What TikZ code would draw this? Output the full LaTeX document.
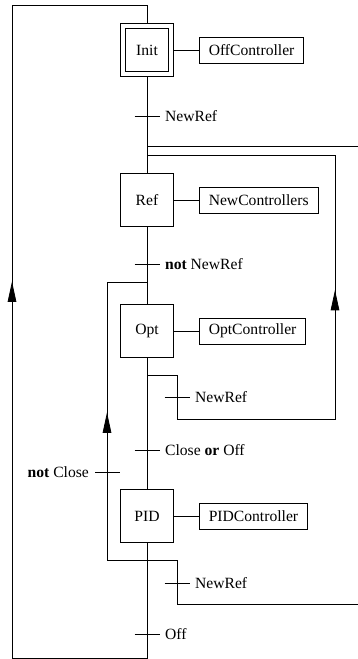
\documentclass[tikz,border=0pt]{standalone}
\usepackage{fontspec}
\setmainfont{Liberation Serif}
\usetikzlibrary{arrows.meta,decorations.markings}
\tikzset{
	stepbox/.style={draw, minimum width=33.9pt, minimum height=33.9pt, inner sep=0pt},
	initbox/.style={draw, minimum width=27.5pt, minimum height=27.5pt, inner sep=0pt},
	actionbox/.style={draw, anchor=west, minimum height=16.6pt, inner xsep=6pt, inner ysep=0pt},
	uparrow/.style={postaction={decorate}, decoration={markings,
		mark=at position #1 with {\arrow{Triangle[length=13pt, width=5.5pt]}}}},
}
\begin{document}
\begin{tikzpicture}[x=0.64pt, y=-0.64pt, line width=0.5pt]
	\useasboundingbox (0,0) rectangle (358,659);
	
	\node[initbox] (init) at (147,50) {Init};
	\node[stepbox] (initframe) at (147,50) {};
	\node[stepbox] (ref) at (147,200) {Ref};
	\node[stepbox] (opt) at (147,331) {Opt};
	\node[stepbox] (pid) at (147,516) {PID};
	
	\node[actionbox] (offctl) at (199,50) {OffController};
	\node[actionbox] (newctl) at (199,200) {NewControllers};
	\node[actionbox] (optctl) at (199,331) {OptController};
	\node[actionbox] (pidctl) at (199,516) {PIDController};
	\draw (initframe) -- (offctl);
	\draw (ref) -- (newctl);
	\draw (opt) -- (optctl);
	\draw (pid) -- (pidctl);
	
	\coordinate (top) at (147,5);
	\coordinate (bottom) at (147,658);
	\coordinate (jref) at (147,146);
	\coordinate (jrefb) at (147,155);
	\coordinate (jopt) at (147,282);
	\coordinate (joptb) at (147,375);
	\coordinate (jpid) at (147,560);
	\coordinate (outhi) at (358,146);
	\coordinate (outlo) at (358,604);
	
	\draw (initframe) -- (ref);
	\draw (ref) -- (opt);
	\draw (opt) -- (pid);
	\draw[uparrow=401pt] (pid) -- (bottom) -- ++(-135,0) |- (top) -- (initframe);
	\draw[uparrow=231pt] (joptb) -- ++(30,0) -- ++(0,44) -- ++(158,0) |- (jrefb);
	\draw[uparrow=120pt] (jpid) -- ++(-40,0) |- (jopt);
	\draw (jpid) -- ++(30,0) |- (outlo);
	\draw (outhi) -- (jref);
	
	\coordinate (t1) at (147,116);
	\coordinate (t2) at (147,264);
	\coordinate (t3) at (177,397);
	\coordinate (t4) at (147,450);
	\coordinate (t5) at (107,472);
	\coordinate (t6) at (177,583);
	\coordinate (t7) at (147,634);
	\draw ([xshift=-8pt]t1) -- ([xshift=8pt]t1) node[right] (l1) {NewRef};
	\draw ([xshift=-8pt]t2) -- ([xshift=8pt]t2) node[right] (l2) {\textbf{not} NewRef};
	\draw ([xshift=-8pt]t3) -- ([xshift=8pt]t3) node[right] (l3) {NewRef};
	\draw ([xshift=-8pt]t4) -- ([xshift=8pt]t4) node[right] (l4) {Close \textbf{or} Off};
	\draw ([xshift=8pt]t5) -- ([xshift=-8pt]t5) node[left] (l5) {\textbf{not} Close};
	\draw ([xshift=-8pt]t6) -- ([xshift=8pt]t6) node[right] (l6) {NewRef};
	\draw ([xshift=-8pt]t7) -- ([xshift=8pt]t7) node[right] (l7) {Off};
\end{tikzpicture}
\end{document}
